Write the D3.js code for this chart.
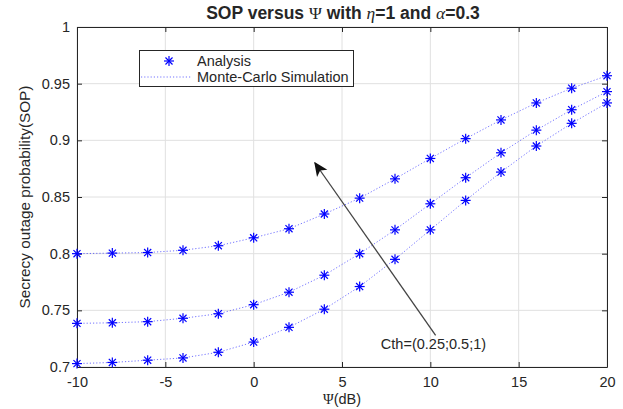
<!DOCTYPE html>
<html><head><meta charset="utf-8">
<script src="https://cdn.jsdelivr.net/npm/d3@7"></script>
<style>
body{margin:0;background:#fff;}
text{font-family:"Liberation Sans",Arial,sans-serif;fill:#262626;}
</style></head>
<body><svg id="c" width="623" height="409"></svg>
<script>
const psi = [-10,-8,-6,-4,-2,0,2,4,6,8,10,12,14,16,18,20];
const sopC025 = [0.800,0.8005,0.801,0.803,0.807,0.814,0.822,0.835,0.849,0.866,0.884,0.9015,0.918,0.933,0.946,0.957];
const sopC05  = [0.7385,0.739,0.740,0.743,0.747,0.755,0.766,0.781,0.800,0.821,0.844,0.867,0.889,0.909,0.927,0.943];
const sopC1   = [0.703,0.704,0.706,0.708,0.713,0.722,0.735,0.751,0.771,0.795,0.821,0.847,0.872,0.895,0.915,0.933];
const xTicks = [-10,-5,0,5,10,15,20];
const xTickLabels = ["-10","-5","0","5","10","15","20"];
const yTicks = [0.7,0.75,0.8,0.85,0.9,0.95,1];
const yTickLabels = ["0.7","0.75","0.8","0.85","0.9","0.95","1"];
const legendLabels = ["Analysis","Monte-Carlo Simulation"];
const annotation = {text:"Cth=(0.25;0.5;1)", from:[10.3,0.728], to:[3.47,0.880], at:[7.2,0.716]};

const svg = d3.select("#c");
const m = {l:77,r:607,t:27,b:367};
const x = d3.scaleLinear().domain([-10,20]).range([m.l,m.r]);
const y = d3.scaleLinear().domain([0.7,1]).range([m.b,m.t]);
const FS = 14.5;

// grid
const g = svg.append("g");
g.selectAll(".gx").data(xTicks).enter().append("line")
  .attr("x1",d=>x(d)).attr("x2",d=>x(d)).attr("y1",m.t).attr("y2",m.b)
  .attr("stroke","#e0e0e0").attr("stroke-width",1);
g.selectAll(".gy").data(yTicks).enter().append("line")
  .attr("y1",d=>y(d)).attr("y2",d=>y(d)).attr("x1",m.l).attr("x2",m.r)
  .attr("stroke","#e0e0e0").attr("stroke-width",1);

// axes
const xb = svg.append("g").attr("transform",`translate(0,${m.b})`)
  .call(d3.axisBottom(x).tickValues(xTicks).tickSizeInner(-5).tickSizeOuter(0).tickPadding(10)
  .tickFormat((d,i)=>xTickLabels[i]));
const xt = svg.append("g").attr("transform",`translate(0,${m.t})`)
  .call(d3.axisTop(x).tickValues(xTicks).tickSizeInner(-5).tickSizeOuter(0).tickFormat(""));
const yl = svg.append("g").attr("transform",`translate(${m.l},0)`)
  .call(d3.axisLeft(y).tickValues(yTicks).tickSizeInner(-5).tickSizeOuter(0).tickPadding(7)
  .tickFormat((d,i)=>yTickLabels[i]));
const yr = svg.append("g").attr("transform",`translate(${m.r},0)`)
  .call(d3.axisRight(y).tickValues(yTicks).tickSizeInner(-5).tickSizeOuter(0).tickFormat(""));
[xb,xt,yl,yr].forEach(a=>{
  a.selectAll("path").attr("stroke","#262626").attr("stroke-width",1);
  a.selectAll("line").attr("stroke","#262626");
  a.selectAll("text").attr("font-size",FS).attr("font-family","Liberation Sans, Arial, sans-serif").attr("fill","#262626");
});

// series
const series = [sopC025, sopC05, sopC1];
const line = d3.line().x((d,i)=>x(psi[i])).y(d=>y(d));
const blue = "#0000ff";
series.forEach(s=>{
  svg.append("path").datum(s).attr("d",line).attr("fill","none")
    .attr("stroke",blue).attr("stroke-opacity",0.55).attr("stroke-width",1).attr("stroke-dasharray","1.2,2");
});
function star(sel, cx, cy, r){
  const a = r*0.7071;
  const gg = sel.append("g").attr("transform",`translate(${cx},${cy})`)
    .attr("stroke",blue).attr("stroke-width",1.2);
  gg.append("line").attr("x1",-r).attr("x2",r);
  gg.append("line").attr("y1",-r).attr("y2",r);
  gg.append("line").attr("x1",-a).attr("y1",-a).attr("x2",a).attr("y2",a);
  gg.append("line").attr("x1",-a).attr("y1",a).attr("x2",a).attr("y2",-a);
}
series.forEach(s=>{
  s.forEach((v,i)=>star(svg, x(psi[i]), y(v), 5));
});

// annotation arrow
const defs = svg.append("defs");
defs.append("marker").attr("id","ah").attr("viewBox","0 0 10 10").attr("refX",9).attr("refY",5)
  .attr("markerWidth",14).attr("markerHeight",14).attr("markerUnits","userSpaceOnUse").attr("orient","auto")
  .append("path").attr("d","M0,0.5 L10,5 L0,9.5 L2.5,5 Z").attr("fill","#111");
svg.append("line")
  .attr("x1",x(annotation.from[0])).attr("y1",y(annotation.from[1]))
  .attr("x2",x(annotation.to[0])).attr("y2",y(annotation.to[1]))
  .attr("stroke","#444").attr("stroke-width",1.3).attr("marker-end","url(#ah)");
svg.append("text").attr("x",x(annotation.at[0])).attr("y",y(annotation.at[1]))
  .attr("font-size",FS).text(annotation.text);

// legend
const lg = svg.append("g");
lg.append("rect").attr("x",139.5).attr("y",50.5).attr("width",214).attr("height",36)
  .attr("fill","#fff").attr("stroke","#262626").attr("stroke-width",1);
star(lg, 169, 61, 5);
lg.append("line").attr("x1",141).attr("x2",192).attr("y1",77).attr("y2",77)
  .attr("stroke",blue).attr("stroke-opacity",0.55).attr("stroke-dasharray","1.2,2");
lg.append("text").attr("x",197).attr("y",66).attr("font-size",FS).text(legendLabels[0]);
lg.append("text").attr("x",197).attr("y",82).attr("font-size",FS).text(legendLabels[1]);

// title
const serif = "Liberation Serif, 'Times New Roman', serif";
const t = svg.append("text").attr("x",343).attr("y",19).attr("text-anchor","middle")
  .attr("font-size",17.5).attr("font-weight","bold").attr("fill","#000");
t.append("tspan").text("SOP versus ");
t.append("tspan").attr("font-family",serif).attr("font-weight","normal").text("\u03A8");
t.append("tspan").text(" with ");
t.append("tspan").attr("font-family",serif).attr("font-style","italic").attr("font-weight","normal").text("\u03B7");
t.append("tspan").text("=1 and ");
t.append("tspan").attr("font-family",serif).attr("font-style","italic").attr("font-weight","normal").text("\u03B1");
t.append("tspan").text("=0.3");

// axis labels
const xl = svg.append("text").attr("x",(m.l+m.r)/2).attr("y",404).attr("text-anchor","middle")
  .attr("font-size",FS);
xl.append("tspan").attr("font-family",serif).text("\u03A8");
xl.append("tspan").text("(dB)");
svg.append("text").attr("transform",`translate(30,${(m.t+m.b)/2}) rotate(-90)`)
  .attr("text-anchor","middle").attr("font-size",15.3).text("Secrecy outage probability(SOP)");
</script></body></html>
